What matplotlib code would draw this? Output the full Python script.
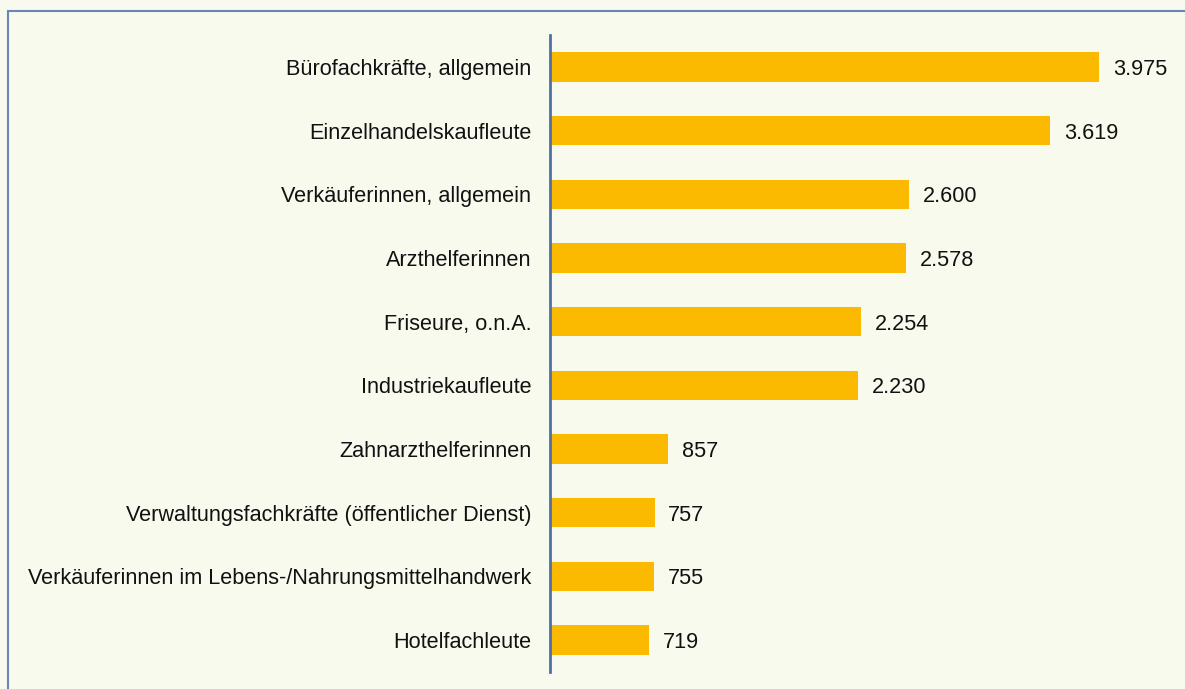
import matplotlib
matplotlib.use("Agg")
import matplotlib.pyplot as plt
from matplotlib.patches import Rectangle

categories = [
    "Bürofachkräfte, allgemein",
    "Einzelhandelskaufleute",
    "Verkäuferinnen, allgemein",
    "Arzthelferinnen",
    "Friseure, o.n.A.",
    "Industriekaufleute",
    "Zahnarzthelferinnen",
    "Verwaltungsfachkräfte (öffentlicher Dienst)",
    "Verkäuferinnen im Lebens-/Nahrungsmittelhandwerk",
    "Hotelfachleute",
]
values = [3975, 3619, 2600, 2578, 2254, 2230, 857, 757, 755, 719]
value_labels = ["3.975", "3.619", "2.600", "2.578", "2.254", "2.230", "857", "757", "755", "719"]

plt.rcParams['font.family'] = ['Liberation Sans', 'DejaVu Sans']

W, H = 1185, 689
fig = plt.figure(figsize=(W / 100, H / 100), dpi=100)
bg = "#F8FAEE"
fig.patch.set_facecolor(bg)
frame = Rectangle((8 / W, -0.1), 1.2, (H - 11) / H + 0.1, transform=fig.transFigure,
                  facecolor=bg, edgecolor="#6A86B8", linewidth=1.5, zorder=-10)
fig.add_artist(frame)

left, right, top, bottom = 550, 1160, 35, 672
ax = fig.add_axes([left / W, 1 - bottom / H, (right - left) / W, (bottom - top) / H])
ax.set_facecolor("none")
ax.set_zorder(5)
scale = 549 / 3975
ax.set_xlim(0, (right - left) / scale)
ax.set_ylim(len(categories) - 0.5, -0.5)

fs = 15.6
y = list(range(len(categories)))
ax.barh(y, values, height=0.46, color="#FBBA00", edgecolor="none")
for yi, v, lab in zip(y, values, value_labels):
    ax.text(v + 100, yi, lab, va="center_baseline", ha="left", fontsize=fs, color="#111111")

for s in ["top", "right", "bottom"]:
    ax.spines[s].set_visible(False)
ax.spines["left"].set_color("#4F6FA8")
ax.spines["left"].set_linewidth(2)
ax.set_xticks([])
ax.set_yticks(y)
ax.set_yticklabels(categories, fontsize=fs, color="#111111", va="center_baseline")
ax.tick_params(axis="y", length=0, pad=13.5)

fig.savefig("out.png", dpi=100, facecolor=bg)
